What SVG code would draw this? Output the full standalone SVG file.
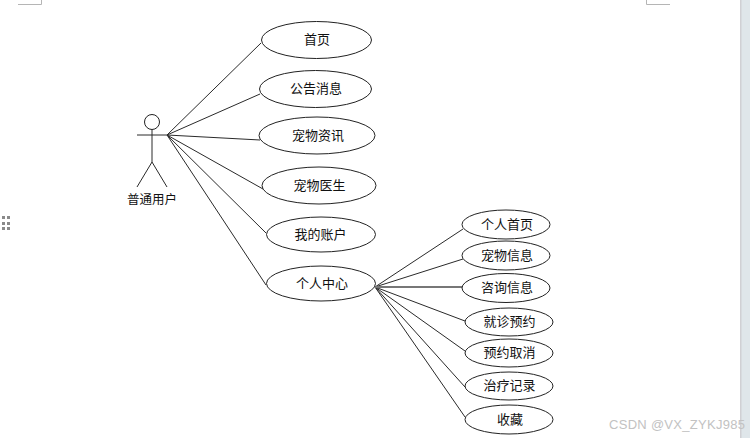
<svg xmlns="http://www.w3.org/2000/svg" width="750" height="438" viewBox="0 0 750 438">
<style>
.u{fill:#fff;stroke:#222;stroke-width:1}
.c{fill:none;stroke:#2a2a2a;stroke-width:1}
.t{font-family:"Noto Sans CJK SC","Liberation Sans",sans-serif;font-size:13px;fill:#111;text-anchor:middle}
.m{fill:none;stroke:#b5b5b5;stroke-width:1}
.d{fill:#8a8a8a}
</style>
<rect width="750" height="438" fill="#fff"/>
<rect x="740" y="0" width="10" height="438" fill="#dfe6ea"/>
<rect x="740" y="0" width="1.500" height="438" fill="#d0d0d4"/>
<g id="page-marks">
<path class="m" d="M18 4.500H41.500V0M646.500 0V4.500H670"/>
<g class="d"><rect x="2" y="216" width="3" height="3"/><rect x="7" y="216" width="3" height="3"/><rect x="2" y="222" width="3" height="3"/><rect x="7" y="222" width="3" height="3"/><rect x="2" y="227" width="3" height="3"/><rect x="7" y="227" width="3" height="3"/></g>
</g>
<g id="connectors">
<path class="c" d="M167 135L261 43M167 135L260 94M167 135L260 140M167 135L263 189M167 135L266 233M167 135L266 285"/>
<path class="c" d="M375 287L463 229M375 287L463 259M375 287L465 321M375 287L465 351M375 287L465 387M375 287L465 417"/>
<path d="M375 287H462" fill="none" stroke="#777" stroke-width="2"/>
</g>
<g id="actor">
<circle class="u" cx="152" cy="122" r="7.500"/>
<path class="c" d="M137 135H167M152 129.500V162L137 187M152 162L167 187"/>
<text class="t" x="152" y="204" style="font-size:12.500px">普通用户</text>
</g>
<g id="u1"><ellipse class="u" cx="316.500" cy="40" rx="55" ry="18.500"/><text class="t" x="317" y="44">首页</text></g>
<g id="u2"><ellipse class="u" cx="315.500" cy="89" rx="56" ry="18.500"/><text class="t" x="316" y="93">公告消息</text></g>
<g id="u3"><ellipse class="u" cx="317" cy="135.500" rx="58" ry="18.500"/><text class="t" x="318" y="140">宠物资讯</text></g>
<g id="u4"><ellipse class="u" cx="319" cy="185.500" rx="57" ry="18.500"/><text class="t" x="319.500" y="190">宠物医生</text></g>
<g id="u5"><ellipse class="u" cx="321" cy="234.500" rx="54.500" ry="17.500"/><text class="t" x="320.500" y="239">我的账户</text></g>
<g id="u6"><ellipse class="u" cx="321" cy="283.500" rx="54.500" ry="17.500"/><text class="t" x="322" y="288">个人中心</text></g>
<g id="s1"><ellipse class="u" cx="506" cy="224.500" rx="44" ry="14.500"/><text class="t" x="507" y="229">个人首页</text></g>
<g id="s2"><ellipse class="u" cx="506" cy="255.500" rx="44" ry="14.500"/><text class="t" x="507" y="260">宠物信息</text></g>
<g id="s3"><ellipse class="u" cx="506" cy="288" rx="44" ry="14.500"/><text class="t" x="507" y="292">咨询信息</text></g>
<g id="s4"><ellipse class="u" cx="509" cy="322" rx="44" ry="14"/><text class="t" x="509.500" y="326">就诊预约</text></g>
<g id="s5"><ellipse class="u" cx="509" cy="353" rx="44" ry="14"/><text class="t" x="509.500" y="357">预约取消</text></g>
<g id="s6"><ellipse class="u" cx="509" cy="386" rx="44" ry="14"/><text class="t" x="509.500" y="390">治疗记录</text></g>
<g id="s7"><ellipse class="u" cx="509" cy="419.500" rx="44" ry="14.500"/><text class="t" x="510" y="424">收藏</text></g>
<text x="609" y="429" font-family="Liberation Sans, sans-serif" font-size="13" fill="#c2c2c2" textLength="136">CSDN @VX_ZYKJ985</text>
</svg>
